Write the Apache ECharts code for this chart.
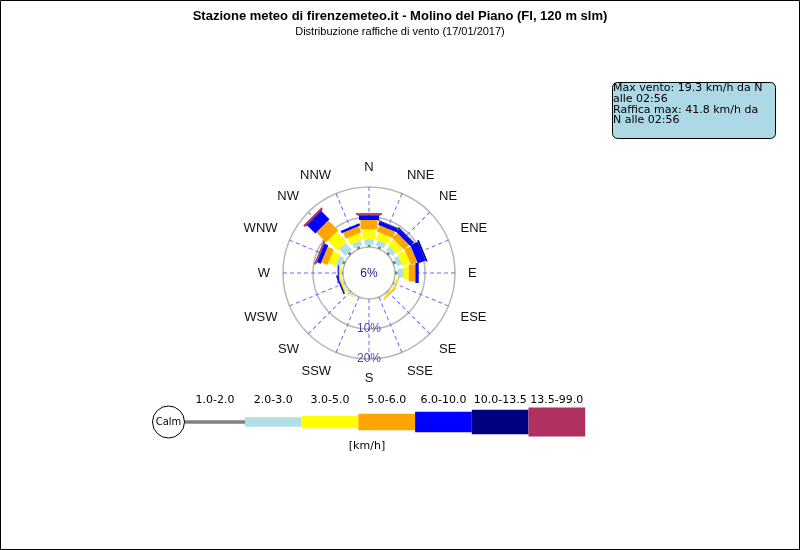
<!DOCTYPE html>
<html><head><meta charset="utf-8">
<script src="https://cdn.jsdelivr.net/npm/echarts@6/dist/echarts.min.js"></script>
<style>html,body{margin:0;padding:0;background:#fff}#c{width:800px;height:550px}</style>
</head><body><div id="c"></div>
<script>
// ---- data ----
const directions = ['N','NNE','NE','ENE','E','ESE','SE','SSE','S','SSW','SW','WSW','W','WNW','NW','NNW'];
const speedClasses = ['1.0-2.0','2.0-3.0','3.0-5.0','5.0-6.0','6.0-10.0','10.0-13.5','13.5-99.0'];
const calmPct = 6;
const ringTicks = [10, 20];
const ringLabels = ['10%', '20%'];
// frequency (%) per direction for each speed class (km/h)
const pct_1_2     = [0.7, 0.8, 0.8, 0.9, 0.9, 0.3, 0.2, 0, 0, 0, 0.2, 0.2, 0.3, 0.8, 0.9, 0.8];
const pct_2_3     = [1.9, 1.7, 1.7, 1.7, 2.0, 0.3, 0.3, 0, 0, 0, 0.5, 0.4, 0.3, 1.8, 3.0, 1.6];
const pct_3_5     = [3.3, 2.6, 2.6, 2.7, 1.7, 0.4, 0.4, 0, 0, 0, 0.3, 0.5, 0.5, 2.6, 4.8, 2.5];
const pct_5_6     = [3.1, 2.3, 2.3, 2.3, 2.2, 0.3, 0.3, 0, 0, 0, 0, 0.3, 0.3, 2.2, 4.6, 2.2];
const pct_6_10    = [1.5, 1.2, 1.5, 2.7, 1.1, 0, 0, 0, 0, 0, 0, 0.5, 0.4, 1.3, 3.8, 0.8];
const pct_10_135  = [0.2, 0.3, 0.3, 0.6, 0, 0, 0, 0, 0, 0, 0, 0, 0, 0.2, 0.3, 0];
const pct_135_99  = [0.6, 0, 0, 0, 0, 0, 0, 0, 0, 0, 0, 0, 0, 0.5, 0.6, 0];
const titleText = 'Stazione meteo di firenzemeteo.it - Molino del Piano (FI, 120 m slm)';
const subtitleText = 'Distribuzione raffiche di vento (17/01/2017)';
const infoLines = ['Max vento: 19.3 km/h da N', 'alle 02:56', 'Raffica max: 41.8 km/h da', 'N alle 02:56'];
const unitText = '[km/h]';
const calmText = 'Calm';

// ---- styling ----
const classValues = [pct_1_2, pct_2_3, pct_3_5, pct_5_6, pct_6_10, pct_10_135, pct_135_99];
const classColors = ['#808080', '#b0e0e6', '#ffff00', '#ffa500', '#0000ff', '#000080', '#b03060'];
const roseLegWidths = [3, 9, 13, 17, 20, 23, 26];
const legendLegWidths = [3.3, 9.3, 12.3, 16.7, 20.7, 24.3, 29];
const CX = 369, CY = 273, R0 = 26, R1 = 86;
const STEP = 360 / directions.length;
const RMAX = ringTicks[ringTicks.length - 1];
const DASH = 4, GAP = 3, DASH_W = 1;

const segData = [];
directions.forEach((d, i) => {
  let c = 0;
  classValues.forEach((arr, k) => {
    const v = arr[i];
    if (v > 0) segData.push([c + v, i * STEP, c, k]);
    c += v;
  });
});

const chart = echarts.init(document.getElementById('c'), null, {renderer: 'canvas'});

// legend graphics
const legendG = [];
const lgY = 422, lgX0 = 185, lgW = 56.7;
legendG.push({type: 'circle', shape: {cx: 168.5, cy: lgY, r: 16}, style: {fill: '#fff', stroke: '#000', lineWidth: 1}, z: 10});
legendG.push({type: 'text', style: {text: calmText, x: 168.5, y: lgY, align: 'center', verticalAlign: 'middle', font: '10px "DejaVu Sans"', fill: '#000'}, z: 11});
speedClasses.forEach((s, k) => {
  const x = k === 0 ? lgX0 : 245 + (k - 1) * lgW;
  const w = k === 0 ? 245 - lgX0 : lgW;
  const h = legendLegWidths[k];
  legendG.push({type: 'rect', shape: {x: x, y: lgY - h / 2, width: w, height: h}, style: {fill: classColors[k]}, z: 9});
  legendG.push({type: 'text', style: {text: s, x: x + w / 2, y: 400, align: 'center', verticalAlign: 'middle', font: '11px "DejaVu Sans"', fill: '#000'}, z: 10});
});
legendG.push({type: 'text', style: {text: unitText, x: 367, y: 446.5, align: 'center', verticalAlign: 'middle', font: '11px "DejaVu Sans"', fill: '#000'}});

const option = {
  backgroundColor: '#fff',
  animation: false,
  title: {
    text: titleText, subtext: subtitleText, left: 'center', top: 5, itemGap: 3,
    textStyle: {fontSize: 13, fontWeight: 'bold', fontFamily: 'Liberation Sans', color: '#000'},
    subtextStyle: {fontSize: 11, fontFamily: 'Liberation Sans', color: '#000'}
  },
  polar: {center: [CX, CY], radius: [R0, R1]},
  angleAxis: {
    type: 'value', min: 0, max: 360, interval: STEP, startAngle: 90, clockwise: true,
    axisLine: {show: false}, axisTick: {show: false}, splitLine: {show: false},
    axisLabel: {
      margin: 13, fontSize: 13, fontFamily: 'Liberation Sans', color: '#111',
      formatter: v => directions[Math.round(v / STEP) % directions.length]
    }
  },
  radiusAxis: {
    type: 'value', min: 0, max: RMAX, interval: 10,
    axisLine: {show: false}, axisTick: {show: false}, axisLabel: {show: false},
    splitLine: {show: true, lineStyle: {color: '#b8b8b8', width: 1.5}}
  },
  series: [
    {
      // radial dashed direction lines (each dash is a thin filled polygon)
      type: 'custom', coordinateSystem: 'polar', silent: true, z: 1,
      dimensions: ['r', 'angle'], encode: {radius: 0, angle: 1},
      data: directions.map((d, i) => [RMAX, i * STEP]),
      renderItem: function (params, api) {
        const a = api.value(1);
        const p0 = api.coord([0, a]);
        const p1 = api.coord([api.value(0), a]);
        const dx = p1[0] - p0[0], dy = p1[1] - p0[1];
        const L = Math.hypot(dx, dy);
        const ux = dx / L, uy = dy / L;
        const nx = -uy * DASH_W / 2, ny = ux * DASH_W / 2;
        const children = [];
        for (let s = 0; s < L; s += DASH + GAP) {
          const e = Math.min(s + DASH, L);
          const ax = p0[0] + ux * s, ay = p0[1] + uy * s, bx = p0[0] + ux * e, by = p0[1] + uy * e;
          children.push({type: 'polygon',
            shape: {points: [[ax + nx, ay + ny], [bx + nx, by + ny], [bx - nx, by - ny], [ax - nx, ay - ny]]},
            style: {fill: '#6a6aff', stroke: null, lineWidth: 0}});
        }
        return {type: 'group', children: children};
      }
    },
    {
      type: 'custom', coordinateSystem: 'polar', z: 2,
      dimensions: ['end', 'dir', 'start', 'cls'],
      encode: {radius: 0, angle: 1},
      data: segData,
      renderItem: function (params, api) {
        const cs = params.coordSys;
        const end = api.value(0), d = api.value(1), start = api.value(2), k = api.value(3);
        const p0 = api.coord([start, d]);
        const p1 = api.coord([end, d]);
        let ux = p0[0] - cs.cx, uy = p0[1] - cs.cy;
        const L = Math.hypot(ux, uy) || 1; ux /= L; uy /= L;
        const hw = roseLegWidths[k] / 2;
        const nx = -uy * hw, ny = ux * hw;
        return {
          type: 'polygon',
          shape: {points: [[p0[0] + nx, p0[1] + ny], [p1[0] + nx, p1[1] + ny], [p1[0] - nx, p1[1] - ny], [p0[0] - nx, p0[1] - ny]]},
          style: {fill: classColors[k], stroke: null, lineWidth: 0}
        };
      }
    },
    {
      type: 'scatter', coordinateSystem: 'polar', symbolSize: 1, itemStyle: {color: 'rgba(0,0,0,0)'},
      data: ringTicks.map((t, i) => ({value: [t, directions.indexOf('S') * STEP], label: {formatter: ringLabels[i]}})),
      label: {show: true, position: 'inside', fontSize: 12, fontFamily: 'Liberation Sans', color: '#1c1c8a'},
      z: 5
    }
  ],
  graphic: [
    {type: 'rect', shape: {x: 0.5, y: 0.5, width: 799, height: 549}, style: {fill: 'none', stroke: '#000', lineWidth: 1}, z: 100},
    {type: 'text', style: {text: calmPct + '%', x: CX, y: CY + 1, align: 'center', verticalAlign: 'middle', font: '12px "Liberation Sans"', fill: '#1c1c8a'}, z: 10},
    {type: 'rect', shape: {x: 612.5, y: 82.5, width: 163, height: 56, r: 5}, style: {fill: '#add8e6', stroke: '#000', lineWidth: 1}, z: 10},
    {type: 'text', style: {text: infoLines.join('\n'), x: 613, y: 83, font: '11px "DejaVu Sans"', lineHeight: 10.7, fill: '#000'}, z: 11}
  ].concat(legendG)
};
chart.setOption(option);
</script>
</body></html>
